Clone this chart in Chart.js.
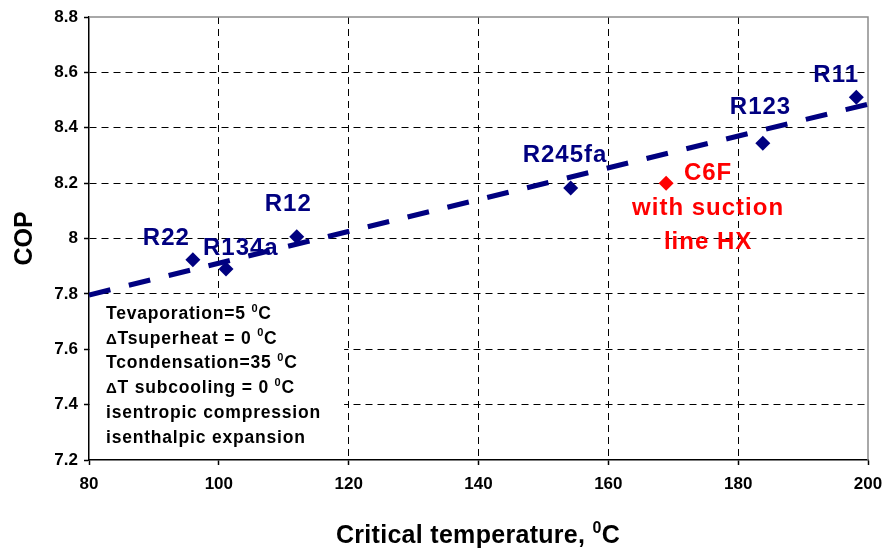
<!DOCTYPE html>
<html>
<head>
<meta charset="utf-8">
<script src="https://cdn.jsdelivr.net/npm/chart.js@4.4.1/dist/chart.umd.min.js"></script>
<style>
    html, body { margin: 0; padding: 0; background: #fff; }
    #wrap { width: 885px; height: 548px; }
</style>
</head>
<body>
<div id="wrap"><canvas id="copChart"></canvas></div>
<script>
// Data
const refrigerants = ['R22', 'R134a', 'R12', 'R245fa', 'R123', 'R11'];
const critTemp = [96.0, 101.1, 112.0, 154.2, 183.8, 198.2];
const copValues = [7.923, 7.89, 8.006, 8.182, 8.344, 8.51];
const c6fTemp = [168.9];
const c6fCop = [8.2];
const c6fLabel = ['C6F', 'with suction', 'line HX'];
const trendTemp = [80, 200];
const trendCop = [7.796, 8.485];

const conditionLines = [
    [{ t: 'Tevaporation=5 ' }, { t: '0', sup: true }, { t: 'C' }],
    [{ t: 'Δ', sym: true }, { t: 'Tsuperheat = 0 ' }, { t: '0', sup: true }, { t: 'C' }],
    [{ t: 'Tcondensation=35 ' }, { t: '0', sup: true }, { t: 'C' }],
    [{ t: 'Δ', sym: true }, { t: 'T subcooling = 0 ' }, { t: '0', sup: true }, { t: 'C' }],
    [{ t: 'isentropic compression' }],
    [{ t: 'isenthalpic expansion' }]
];
const xTitleParts = [{ t: 'Critical temperature, ' }, { t: '0', sup: true }, { t: 'C' }];

const FONT = '"Liberation Sans", Arial, Helvetica, sans-serif';
const NAVY = '#000080';
const RED = '#ff0000';

// label placement (pixels relative to the marker)
const labelOffsets = [[-50, -21], [-23, -21], [-32, -32], [-48, -33], [-33, -36], [-43, -22]];
const c6fOffsets = [[42, -10], [42, 25], [42, 59]];

function drawRich(ctx, parts, x, y, size, align) {
    const fontFor = p => `bold ${p.sup ? Math.round(size * 0.62) : (p.sym ? Math.round(size * 0.85) : size)}px ${FONT}`;
    let w = 0;
    parts.forEach(p => { ctx.font = fontFor(p); w += ctx.measureText(p.t).width; });
    let cx = align === 'center' ? x - w / 2 : x;
    ctx.textAlign = 'left';
    ctx.textBaseline = 'alphabetic';
    parts.forEach(p => {
        ctx.font = fontFor(p);
        ctx.fillText(p.t, cx, p.sup ? y - size * 0.42 : y);
        cx += ctx.measureText(p.t).width;
    });
}

const decorations = {
    id: 'decorations',
    beforeDatasetsDraw(chart) {
        const { ctx, chartArea: a, scales: { x, y } } = chart;
        ctx.save();
        // white box for the conditions text, covering the grid
        const l = a.left + 1, r = x.getPixelForValue(119.3);
        const t = y.getPixelForValue(7.785), b = a.bottom - 1;
        ctx.fillStyle = '#fff';
        ctx.fillRect(l, t, r - l, b - t);

        // top and right frame
        ctx.strokeStyle = '#8c8c8c';
        ctx.lineWidth = 1.5;
        ctx.beginPath();
        ctx.moveTo(a.left, a.top);
        ctx.lineTo(a.right, a.top);
        ctx.lineTo(a.right, a.bottom);
        ctx.stroke();

        // refrigerant labels
        ctx.fillStyle = NAVY;
        ctx.font = `bold 24px ${FONT}`;
        ctx.letterSpacing = '1px';
        ctx.textAlign = 'left';
        ctx.textBaseline = 'middle';
        refrigerants.forEach((name, i) => {
            const px = x.getPixelForValue(critTemp[i]);
            const py = y.getPixelForValue(copValues[i]);
            ctx.fillText(name, px + labelOffsets[i][0], py + labelOffsets[i][1]);
        });

        // C6F label
        ctx.fillStyle = RED;
        ctx.textAlign = 'center';
        const cx = x.getPixelForValue(c6fTemp[0]);
        const cy = y.getPixelForValue(c6fCop[0]);
        c6fLabel.forEach((line, i) => {
            ctx.fillText(line, cx + c6fOffsets[i][0], cy + c6fOffsets[i][1]);
        });

        // conditions
        ctx.fillStyle = '#000';
        ctx.letterSpacing = '0.8px';
        conditionLines.forEach((parts, i) => {
            drawRich(ctx, parts, 106, 319 + i * 24.7, 17.5, 'left');
        });
        ctx.restore();
    },
    afterDraw(chart) {
        const { ctx } = chart;
        ctx.save();
        ctx.fillStyle = '#000';
        ctx.letterSpacing = '0.3px';
        drawRich(ctx, xTitleParts, 478, 543, 25, 'center');
        ctx.restore();
    }
};

// first line is the axis itself, last line is the gray frame
const gridColor = (c) => {
    const n = c.scale.ticks.length - 1;
    return (c.index === 0 || c.index === n) ? 'rgba(0,0,0,0)' : '#000';
};

new Chart(document.getElementById('copChart'), {
    type: 'scatter',
    data: {
        datasets: [
            {
                label: 'trend',
                type: 'line',
                data: trendTemp.map((t, i) => ({ x: t, y: trendCop[i] })),
                borderColor: NAVY,
                borderWidth: 5,
                borderDash: [22, 19],
                pointRadius: 0,
                fill: false,
                order: 0
            },
            {
                label: 'Refrigerants',
                data: critTemp.map((t, i) => ({ x: t, y: copValues[i] })),
                pointStyle: 'rectRot',
                pointRadius: 7.5,
                backgroundColor: NAVY,
                borderColor: NAVY,
                borderWidth: 0,
                order: 1
            },
            {
                label: 'C6F',
                data: c6fTemp.map((t, i) => ({ x: t, y: c6fCop[i] })),
                pointStyle: 'rectRot',
                pointRadius: 7.5,
                backgroundColor: RED,
                borderColor: RED,
                borderWidth: 0,
                order: 1
            }
        ]
    },
    options: {
        responsive: true,
        maintainAspectRatio: false,
        animation: false,
        layout: { padding: { top: 17, right: 17, left: 0, bottom: 0 } },
        plugins: { legend: { display: false }, tooltip: { enabled: false } },
        scales: {
            x: {
                type: 'linear',
                min: 80, max: 200,
                afterFit: (s) => { s.height = 88; s.paddingLeft = 0; s.paddingRight = 0; },
                ticks: { stepSize: 20, color: '#000', padding: 9, font: { family: FONT, size: 17, weight: 'bold' } },
                grid: { color: gridColor, lineWidth: 1, tickLength: 5, tickColor: '#000', tickWidth: 1.5, tickBorderDash: [] },
                border: { display: true, color: '#000', width: 1.5, dash: [7, 5] }
            },
            y: {
                type: 'linear',
                min: 7.2, max: 8.8,
                afterFit: (s) => { s.width = 89; s.paddingTop = 0; s.paddingBottom = 0; },
                ticks: {
                    stepSize: 0.2, color: '#000', padding: 6,
                    font: { family: FONT, size: 17, weight: 'bold' },
                    callback: (v) => String(+v.toFixed(1))
                },
                grid: { color: gridColor, lineWidth: 1, tickLength: 5, tickColor: '#000', tickWidth: 1.5, tickBorderDash: [] },
                border: { display: true, color: '#000', width: 1.5, dash: [7, 5] },
                title: {
                    display: true, text: 'COP', color: '#000',
                    font: { family: FONT, size: 25, weight: 'bold' },
                    padding: { top: 10, bottom: 0 }
                }
            }
        }
    },
    plugins: [decorations]
});
</script>
</body>
</html>
